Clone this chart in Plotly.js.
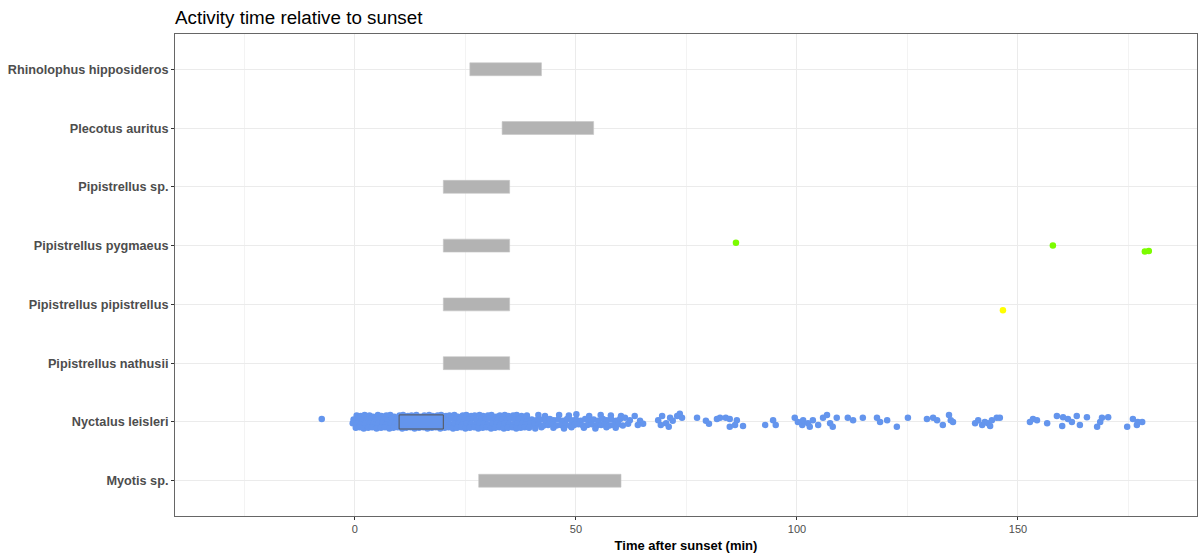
<!DOCTYPE html>
<html>
<head>
<meta charset="utf-8">
<script src="https://cdn.plot.ly/plotly-3.0.1.min.js"></script>
<style>html,body{margin:0;padding:0;background:#fff;}#chart{width:1200px;height:556px;}</style>
</head>
<body>
<div id="chart"></div>
<script>
// Species (bottom to top)
const species = ["Myotis sp.", "Nyctalus leisleri", "Pipistrellus nathusii", "Pipistrellus pipistrellus",
                 "Pipistrellus pygmaeus", "Pipistrellus sp.", "Plecotus auritus", "Rhinolophus hipposideros"];

// Grey activity windows (min after sunset)
const greySpecies = [0, 2, 3, 4, 5, 6, 7];
const greyStart = [28.0, 20.0, 20.0, 20.0, 20.0, 33.3, 26.0];
const greyEnd   = [60.2, 35.0, 35.0, 35.0, 35.0, 54.0, 42.2];

// Nyctalus leisleri box
const nyctBoxStart = 10.0;
const nyctBoxEnd = 20.0;

// Nyctalus leisleri observations: [time, vertical jitter]
const nyctObs = [
 [-7.5,0.05],
 // dense band 0-40 min
 [0.4,0.11],[1.3,0.10],[2.2,0.12],[3.3,0.11],[4.1,0.09],[5.2,0.12],[6.0,0.10],[7.1,0.11],[8.0,0.12],[8.9,0.09],
 [10.1,0.11],[10.9,0.12],[12.0,0.10],[12.8,0.11],[13.9,0.12],[14.8,0.09],[15.7,0.11],[16.8,0.12],[17.6,0.10],[18.7,0.11],
 [19.5,0.12],[20.6,0.10],[21.4,0.11],[22.5,0.12],[23.3,0.09],[24.4,0.11],[25.2,0.12],[26.3,0.10],[27.1,0.11],[28.2,0.12],
 [29.0,0.10],[30.1,0.11],[30.9,0.12],[32.0,0.09],[32.8,0.11],[33.9,0.12],[34.7,0.10],[35.8,0.11],[36.6,0.12],[37.7,0.10],
 [-0.3,0.04],[0.8,0.05],[1.7,0.03],[2.7,0.04],[3.7,0.06],[4.6,0.03],[5.6,0.05],[6.5,0.04],[7.5,0.03],[8.4,0.06],
 [9.4,0.04],[10.5,0.05],[11.4,0.03],[12.3,0.04],[13.3,0.06],[14.3,0.03],[15.2,0.05],[16.2,0.04],[17.1,0.06],[18.1,0.03],
 [19.0,0.05],[20.0,0.04],[21.0,0.03],[21.9,0.06],[22.8,0.04],[23.8,0.05],[24.8,0.03],[25.7,0.04],[26.7,0.06],[27.6,0.03],
 [28.6,0.05],[29.5,0.04],[30.5,0.06],[31.4,0.03],[32.4,0.05],[33.3,0.04],[34.3,0.03],[35.2,0.06],[36.2,0.04],[37.1,0.05],
 [38.1,0.03],[39.0,0.05],[40.0,0.04],
 [-0.5,-0.02],[0.5,-0.03],[1.4,-0.04],[2.4,-0.02],[3.4,-0.03],[4.3,-0.04],[5.3,-0.02],[6.2,-0.03],[7.2,-0.04],[8.2,-0.02],
 [9.1,-0.03],[10.0,-0.04],[11.0,-0.02],[12.0,-0.03],[12.9,-0.04],[13.9,-0.02],[14.8,-0.03],[15.8,-0.04],[16.7,-0.02],[17.7,-0.03],
 [18.7,-0.04],[19.6,-0.02],[20.6,-0.03],[21.5,-0.04],[22.5,-0.02],[23.4,-0.03],[24.4,-0.04],[25.3,-0.02],[26.3,-0.03],[27.3,-0.04],
 [28.2,-0.02],[29.1,-0.03],[30.1,-0.04],[31.1,-0.02],[32.0,-0.03],[33.0,-0.04],[33.9,-0.02],[34.9,-0.03],[35.9,-0.04],[36.8,-0.02],
 [37.8,-0.03],[38.7,-0.04],[39.7,-0.02],
 [0.2,-0.10],[1.1,-0.09],[2.0,-0.11],[3.0,-0.10],[3.9,-0.09],[4.9,-0.11],[5.9,-0.10],[6.8,-0.09],[7.8,-0.11],[8.7,-0.10],
 [9.7,-0.09],[10.7,-0.11],[11.6,-0.10],[12.6,-0.09],[13.5,-0.11],[14.5,-0.10],[15.5,-0.09],[16.4,-0.11],[17.4,-0.10],[18.3,-0.09],
 [19.3,-0.11],[20.3,-0.10],[21.2,-0.09],[22.2,-0.11],[23.1,-0.10],[24.1,-0.09],[25.0,-0.11],[26.0,-0.10],[27.0,-0.09],[27.9,-0.11],
 [28.9,-0.10],[29.8,-0.09],[30.8,-0.11],[31.7,-0.10],[32.7,-0.09],[33.7,-0.11],[34.6,-0.10],[35.6,-0.09],[36.5,-0.11],[37.5,-0.10],
 [38.4,-0.09],
 // band 40-62 min
 [38.9,0.11],[41.5,0.12],[43.0,0.10],[46.2,0.12],[48.4,0.11],[50.1,0.13],[53.0,0.10],[55.6,0.12],[57.9,0.11],[60.2,0.10],
 [41.0,0.03],[42.0,0.04],[43.1,0.02],[44.1,0.05],[45.0,0.03],[46.0,0.04],[47.1,0.02],[48.0,0.05],[49.0,0.03],[50.0,0.04],
 [51.1,0.02],[52.1,0.05],[53.0,0.03],[54.0,0.04],[55.0,0.02],[56.1,0.05],[57.0,0.03],[58.0,0.04],[59.1,0.02],[60.0,0.05],
 [40.6,-0.05],[41.6,-0.04],[42.7,-0.06],[43.7,-0.05],[44.6,-0.04],[45.6,-0.06],[46.6,-0.05],[47.6,-0.04],[48.6,-0.06],[49.6,-0.05],
 [50.6,-0.04],[51.6,-0.06],[52.6,-0.05],[53.6,-0.04],[54.7,-0.06],[55.7,-0.05],[56.6,-0.04],[57.6,-0.06],[58.6,-0.05],[59.6,-0.04],
 [60.6,-0.06],
 [39.4,-0.10],[40.8,-0.11],[42.2,-0.09],[44.9,-0.10],[47.3,-0.11],[49.0,-0.09],[51.8,-0.10],[54.4,-0.11],[56.9,-0.09],[59.0,-0.10],
 // sparse observations
 [61.1,0.07],[62.2,0.03],[63.3,0.10],[64.5,0.02],[65.2,-0.03],[61.8,-0.03],[64.0,-0.05],
 [68.6,0.03],[69.5,0.10],[70.4,-0.02],[71.3,0.07],[71.9,0.02],[72.9,0.10],[73.5,0.14],[74.0,0.07],[71.0,-0.08],[69.2,-0.05],
 [77.4,0.07],[79.4,0.02],[80.1,-0.03],[81.9,0.05],[82.6,0.07],[83.9,0.07],[84.8,0.05],[86.4,0.03],[84.8,-0.08],[86.0,-0.05],[87.8,-0.07],
 [92.8,-0.05],[94.6,0.03],[95.2,-0.05],
 [99.5,0.07],[100.2,0.00],[101.2,-0.05],[101.4,0.03],[102.5,-0.02],[102.9,-0.08],[103.6,0.03],[104.8,-0.05],[105.9,0.07],[106.8,0.12],
 [107.5,-0.02],[108.1,-0.08],[109.0,0.07],[111.5,0.07],[112.7,0.03],[114.9,0.07],
 [118.1,0.07],[118.8,0.00],[120.4,0.03],[122.6,-0.08],[125.1,0.07],
 [129.4,0.05],[130.8,0.07],[131.7,0.03],[133.0,-0.05],[134.4,0.12],[134.8,0.03],[135.3,0.00],
 [140.3,-0.02],[141.0,0.03],[141.9,-0.05],[142.5,0.00],[143.2,-0.02],[143.7,-0.07],[144.1,0.03],[145.2,0.07],[145.9,0.07],
 [152.7,0.00],[153.4,0.05],[154.3,0.03],[156.6,-0.02],
 [158.8,0.10],[160.0,-0.07],[160.2,0.08],[161.3,0.05],[162.2,0.00],[163.3,0.10],[164.0,-0.05],[165.6,0.08],
 [167.9,-0.08],[168.6,0.00],[169.0,0.07],[170.4,0.08],
 [174.7,-0.08],[176.0,0.05],[176.9,-0.05],[177.1,0.00],[178.1,0.00]
];

// Other species observations: [time, jitter]
const pygmaeusObs = [[86.2,0.05],[157.9,0.00],[178.7,-0.10],[179.6,-0.09]];
const pipistrellusObs = [[146.6,-0.10]];

const xTicks = [0, 50, 100, 150];
const xMinor = [-25, 25, 75, 125, 175];

const idx = name => species.indexOf(name);
const blue = '#6495ED';
const boxHalf = 0.12;
const nyY = idx("Nyctalus leisleri");

const traces = [
  {
    type: 'bar', orientation: 'h',
    y: greySpecies,
    base: greyStart,
    x: greyEnd.map((e, i) => e - greyStart[i]),
    width: 0.22,
    marker: {color: '#b3b3b3', line: {color: '#c6c6c6', width: 0.6}},
    hoverinfo: 'skip', showlegend: false
  },
  {
    type: 'scatter', mode: 'markers',
    x: nyctObs.map(p => p[0]),
    y: nyctObs.map(p => nyY + p[1]),
    marker: {color: blue, size: 6.5, line: {width: 0}},
    hoverinfo: 'x', showlegend: false
  },
  {
    type: 'scatter', mode: 'lines', fill: 'toself',
    x: [nyctBoxStart, nyctBoxEnd, nyctBoxEnd, nyctBoxStart, nyctBoxStart],
    y: [nyY - boxHalf, nyY - boxHalf, nyY + boxHalf, nyY + boxHalf, nyY - boxHalf],
    fillcolor: blue,
    line: {color: '#555555', width: 1},
    hoverinfo: 'skip', showlegend: false
  },
  {
    type: 'scatter', mode: 'markers',
    x: pygmaeusObs.map(p => p[0]),
    y: pygmaeusObs.map(p => idx("Pipistrellus pygmaeus") + p[1]),
    marker: {color: '#7CFC00', size: 6.5, line: {width: 0}},
    hoverinfo: 'x', showlegend: false
  },
  {
    type: 'scatter', mode: 'markers',
    x: pipistrellusObs.map(p => p[0]),
    y: pipistrellusObs.map(p => idx("Pipistrellus pipistrellus") + p[1]),
    marker: {color: '#FFFF00', size: 6.5, line: {width: 0}},
    hoverinfo: 'x', showlegend: false
  }
];

const layout = {
  width: 1200, height: 556,
  margin: {l: 175, r: 3, t: 34, b: 40},
  paper_bgcolor: '#ffffff', plot_bgcolor: '#ffffff',
  barmode: 'overlay',
  showlegend: false,
  font: {family: 'Liberation Sans, Arial, sans-serif'},
  title: {
    text: 'Activity time relative to sunset',
    font: {family: 'Liberation Sans, Arial, sans-serif', size: 18.8, color: '#000000'},
    xref: 'container', x: 175/1200, xanchor: 'left',
    yref: 'container', y: 1 - 17/556, yanchor: 'middle'
  },
  xaxis: {
    range: [-40.7, 190.5],
    tickvals: xTicks, ticktext: xTicks.map(String),
    showgrid: true, gridcolor: '#ebebeb', gridwidth: 1,
    minor: {tickvals: xMinor, showgrid: true, gridcolor: '#f3f3f3', gridwidth: 1, ticks: ''},
    zeroline: false,
    ticks: 'outside', ticklen: 3, tickcolor: '#333333', tickwidth: 1,
    tickfont: {size: 11, color: '#4d4d4d'},
    showline: true, mirror: true, linecolor: '#666666', linewidth: 1,
    automargin: false,
    title: {text: 'Time after sunset (min)', font: {size: 13, color: '#000000', weight: 'bold'}, standoff: 6}
  },
  yaxis: {
    range: [-0.6, 7.6],
    tickvals: species.map((s, i) => i), ticktext: species,
    showgrid: true, gridcolor: '#ebebeb', gridwidth: 1,
    zeroline: false,
    ticks: 'outside', ticklen: 3, tickcolor: '#333333', tickwidth: 1,
    tickfont: {size: 12.7, color: '#4d4d4d', weight: 'bold'},
    showline: true, mirror: true, linecolor: '#666666', linewidth: 1,
    automargin: false
  }
};

Plotly.newPlot('chart', traces, layout, {displayModeBar: false, staticPlot: true});
</script>
</body>
</html>
